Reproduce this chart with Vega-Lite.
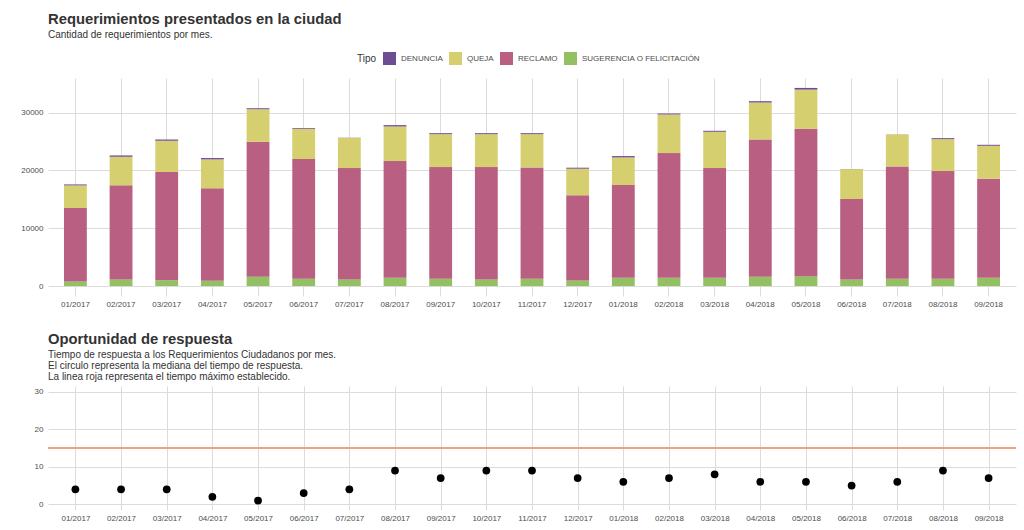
{
  "$schema": "https://vega.github.io/schema/vega-lite/v6.json",
  "autosize": {"type": "pad"},
  "padding": {"left": 20, "top": 12, "right": 5, "bottom": 5},
  "background": "white",
  "bounds": "flush",
  "spacing": 90,
  "config": {
    "font": "Liberation Sans",
    "view": {"stroke": null},
    "axis": {
      "domain": false,
      "ticks": false,
      "gridColor": "#dcdcdc",
      "gridWidth": 1,
      "labelColor": "#4d4d4d",
      "labelFontSize": 8,
      "labelFont": "Liberation Sans",
      "title": null
    },
    "title": {
      "anchor": "start",
      "frame": "group",
      "font": "Liberation Sans",
      "fontSize": 14.8,
      "fontWeight": "bold",
      "color": "#333333",
      "subtitleFont": "Liberation Sans",
      "subtitleFontSize": 10,
      "subtitleColor": "#333333",
      "subtitlePadding": 3,
      "subtitleLineHeight": 11
    }
  },
  "datasets": {
    "req": [
      {"mes": "01/2017", "Tipo": "SUGERENCIA O FELICITACIÓN", "n": 800},
      {"mes": "01/2017", "Tipo": "RECLAMO", "n": 12700},
      {"mes": "01/2017", "Tipo": "QUEJA", "n": 3900},
      {"mes": "01/2017", "Tipo": "DENUNCIA", "n": 170},
      {"mes": "02/2017", "Tipo": "SUGERENCIA O FELICITACIÓN", "n": 1150},
      {"mes": "02/2017", "Tipo": "RECLAMO", "n": 16260},
      {"mes": "02/2017", "Tipo": "QUEJA", "n": 4940},
      {"mes": "02/2017", "Tipo": "DENUNCIA", "n": 230},
      {"mes": "03/2017", "Tipo": "SUGERENCIA O FELICITACIÓN", "n": 1030},
      {"mes": "03/2017", "Tipo": "RECLAMO", "n": 18680},
      {"mes": "03/2017", "Tipo": "QUEJA", "n": 5400},
      {"mes": "03/2017", "Tipo": "DENUNCIA", "n": 230},
      {"mes": "04/2017", "Tipo": "SUGERENCIA O FELICITACIÓN", "n": 920},
      {"mes": "04/2017", "Tipo": "RECLAMO", "n": 15980},
      {"mes": "04/2017", "Tipo": "QUEJA", "n": 5000},
      {"mes": "04/2017", "Tipo": "DENUNCIA", "n": 230},
      {"mes": "05/2017", "Tipo": "SUGERENCIA O FELICITACIÓN", "n": 1610},
      {"mes": "05/2017", "Tipo": "RECLAMO", "n": 23330},
      {"mes": "05/2017", "Tipo": "QUEJA", "n": 5630},
      {"mes": "05/2017", "Tipo": "DENUNCIA", "n": 170},
      {"mes": "06/2017", "Tipo": "SUGERENCIA O FELICITACIÓN", "n": 1260},
      {"mes": "06/2017", "Tipo": "RECLAMO", "n": 20690},
      {"mes": "06/2017", "Tipo": "QUEJA", "n": 5230},
      {"mes": "06/2017", "Tipo": "DENUNCIA", "n": 150},
      {"mes": "07/2017", "Tipo": "SUGERENCIA O FELICITACIÓN", "n": 1150},
      {"mes": "07/2017", "Tipo": "RECLAMO", "n": 19250},
      {"mes": "07/2017", "Tipo": "QUEJA", "n": 5230},
      {"mes": "07/2017", "Tipo": "DENUNCIA", "n": 30},
      {"mes": "08/2017", "Tipo": "SUGERENCIA O FELICITACIÓN", "n": 1440},
      {"mes": "08/2017", "Tipo": "RECLAMO", "n": 20170},
      {"mes": "08/2017", "Tipo": "QUEJA", "n": 5980},
      {"mes": "08/2017", "Tipo": "DENUNCIA", "n": 230},
      {"mes": "09/2017", "Tipo": "SUGERENCIA O FELICITACIÓN", "n": 1260},
      {"mes": "09/2017", "Tipo": "RECLAMO", "n": 19310},
      {"mes": "09/2017", "Tipo": "QUEJA", "n": 5690},
      {"mes": "09/2017", "Tipo": "DENUNCIA", "n": 170},
      {"mes": "10/2017", "Tipo": "SUGERENCIA O FELICITACIÓN", "n": 1150},
      {"mes": "10/2017", "Tipo": "RECLAMO", "n": 19420},
      {"mes": "10/2017", "Tipo": "QUEJA", "n": 5690},
      {"mes": "10/2017", "Tipo": "DENUNCIA", "n": 170},
      {"mes": "11/2017", "Tipo": "SUGERENCIA O FELICITACIÓN", "n": 1260},
      {"mes": "11/2017", "Tipo": "RECLAMO", "n": 19250},
      {"mes": "11/2017", "Tipo": "QUEJA", "n": 5750},
      {"mes": "11/2017", "Tipo": "DENUNCIA", "n": 170},
      {"mes": "12/2017", "Tipo": "SUGERENCIA O FELICITACIÓN", "n": 980},
      {"mes": "12/2017", "Tipo": "RECLAMO", "n": 14710},
      {"mes": "12/2017", "Tipo": "QUEJA", "n": 4600},
      {"mes": "12/2017", "Tipo": "DENUNCIA", "n": 170},
      {"mes": "01/2018", "Tipo": "SUGERENCIA O FELICITACIÓN", "n": 1440},
      {"mes": "01/2018", "Tipo": "RECLAMO", "n": 16030},
      {"mes": "01/2018", "Tipo": "QUEJA", "n": 4770},
      {"mes": "01/2018", "Tipo": "DENUNCIA", "n": 230},
      {"mes": "02/2018", "Tipo": "SUGERENCIA O FELICITACIÓN", "n": 1440},
      {"mes": "02/2018", "Tipo": "RECLAMO", "n": 21550},
      {"mes": "02/2018", "Tipo": "QUEJA", "n": 6670},
      {"mes": "02/2018", "Tipo": "DENUNCIA", "n": 170},
      {"mes": "03/2018", "Tipo": "SUGERENCIA O FELICITACIÓN", "n": 1440},
      {"mes": "03/2018", "Tipo": "RECLAMO", "n": 18960},
      {"mes": "03/2018", "Tipo": "QUEJA", "n": 6270},
      {"mes": "03/2018", "Tipo": "DENUNCIA", "n": 170},
      {"mes": "04/2018", "Tipo": "SUGERENCIA O FELICITACIÓN", "n": 1610},
      {"mes": "04/2018", "Tipo": "RECLAMO", "n": 23740},
      {"mes": "04/2018", "Tipo": "QUEJA", "n": 6380},
      {"mes": "04/2018", "Tipo": "DENUNCIA", "n": 230},
      {"mes": "05/2018", "Tipo": "SUGERENCIA O FELICITACIÓN", "n": 1720},
      {"mes": "05/2018", "Tipo": "RECLAMO", "n": 25460},
      {"mes": "05/2018", "Tipo": "QUEJA", "n": 6780},
      {"mes": "05/2018", "Tipo": "DENUNCIA", "n": 290},
      {"mes": "06/2018", "Tipo": "SUGERENCIA O FELICITACIÓN", "n": 1150},
      {"mes": "06/2018", "Tipo": "RECLAMO", "n": 13900},
      {"mes": "06/2018", "Tipo": "QUEJA", "n": 5170},
      {"mes": "06/2018", "Tipo": "DENUNCIA", "n": 20},
      {"mes": "07/2018", "Tipo": "SUGERENCIA O FELICITACIÓN", "n": 1260},
      {"mes": "07/2018", "Tipo": "RECLAMO", "n": 19430},
      {"mes": "07/2018", "Tipo": "QUEJA", "n": 5520},
      {"mes": "07/2018", "Tipo": "DENUNCIA", "n": 20},
      {"mes": "08/2018", "Tipo": "SUGERENCIA O FELICITACIÓN", "n": 1260},
      {"mes": "08/2018", "Tipo": "RECLAMO", "n": 18620},
      {"mes": "08/2018", "Tipo": "QUEJA", "n": 5520},
      {"mes": "08/2018", "Tipo": "DENUNCIA", "n": 170},
      {"mes": "09/2018", "Tipo": "SUGERENCIA O FELICITACIÓN", "n": 1440},
      {"mes": "09/2018", "Tipo": "RECLAMO", "n": 17120},
      {"mes": "09/2018", "Tipo": "QUEJA", "n": 5690},
      {"mes": "09/2018", "Tipo": "DENUNCIA", "n": 170}
    ],
    "resp": [
      {"mes": "01/2017", "mediana": 4},
      {"mes": "02/2017", "mediana": 4},
      {"mes": "03/2017", "mediana": 4},
      {"mes": "04/2017", "mediana": 2},
      {"mes": "05/2017", "mediana": 1},
      {"mes": "06/2017", "mediana": 3},
      {"mes": "07/2017", "mediana": 4},
      {"mes": "08/2017", "mediana": 9},
      {"mes": "09/2017", "mediana": 7},
      {"mes": "10/2017", "mediana": 9},
      {"mes": "11/2017", "mediana": 9},
      {"mes": "12/2017", "mediana": 7},
      {"mes": "01/2018", "mediana": 6},
      {"mes": "02/2018", "mediana": 7},
      {"mes": "03/2018", "mediana": 8},
      {"mes": "04/2018", "mediana": 6},
      {"mes": "05/2018", "mediana": 6},
      {"mes": "06/2018", "mediana": 5},
      {"mes": "07/2018", "mediana": 6},
      {"mes": "08/2018", "mediana": 9},
      {"mes": "09/2018", "mediana": 7}
    ]
  },
  "vconcat": [
    {
      "width": 968,
      "height": 218,
      "title": {
        "text": "Requerimientos presentados en la ciudad",
        "subtitle": "Cantidad de requerimientos por mes.",
        "offset": 38
      },
      "data": {"name": "req"},
      "mark": {"type": "bar"},
      "encoding": {
        "x": {
          "field": "mes",
          "type": "nominal",
          "sort": null,
          "scale": {"paddingInner": 0.5, "paddingOuter": 0.35},
          "axis": {"labelAngle": 0, "labelPadding": 4, "grid": true, "bandPosition": 0.5}
        },
        "y": {
          "field": "n",
          "type": "quantitative",
          "aggregate": "sum",
          "stack": "zero",
          "scale": {"domain": [-1713, 35966], "nice": false, "zero": false},
          "axis": {"values": [0, 10000, 20000, 30000], "format": "d", "labelPadding": 5, "grid": true}
        },
        "color": {
          "field": "Tipo",
          "type": "nominal",
          "scale": {
            "domain": ["DENUNCIA", "QUEJA", "RECLAMO", "SUGERENCIA O FELICITACIÓN"],
            "range": ["#6e4c93", "#d5cf6f", "#b85f82", "#93c062"]
          },
          "legend": {
            "orient": "none",
            "legendX": 309,
            "legendY": -26,
            "direction": "horizontal",
            "title": "Tipo",
            "titleOrient": "left",
            "titleFontSize": 10,
            "titleFontWeight": "normal",
            "titleColor": "#333333",
            "titlePadding": 6,
            "titleBaseline": "middle",
            "symbolType": "square",
            "symbolSize": 169,
            "symbolStrokeWidth": 0,
            "symbolOpacity": 1,
            "labelFontSize": 8,
            "labelColor": "#4d4d4d",
            "labelOffset": 5,
            "columnPadding": 6
          }
        },
        "order": {"field": "Tipo", "sort": "descending"}
      }
    },
    {
      "width": 968,
      "height": 124,
      "title": {
        "text": "Oportunidad de respuesta",
        "subtitle": [
          "Tiempo de respuesta a los Requerimientos Ciudadanos por mes.",
          "El circulo representa la mediana del tiempo de respuesta.",
          "La linea roja representa el tiempo máximo establecido."
        ],
        "offset": 4
      },
      "data": {"name": "resp"},
      "encoding": {
        "x": {
          "field": "mes",
          "type": "nominal",
          "sort": null,
          "scale": {"type": "point", "padding": 0.6},
          "axis": {"labelAngle": 0, "labelPadding": 4, "grid": true}
        }
      },
      "layer": [
        {
          "mark": {"type": "rule", "color": "#f4a083", "strokeWidth": 1.6},
          "encoding": {"y": {"datum": 15, "type": "quantitative"}, "x": null}
        },
        {
          "mark": {"type": "circle", "color": "black", "opacity": 1, "size": 60},
          "encoding": {
            "y": {
              "field": "mediana",
              "type": "quantitative",
              "scale": {"domain": [-1.5, 31.5], "nice": false, "zero": false},
              "axis": {"values": [0, 10, 20, 30], "labelPadding": 5, "grid": true}
            }
          }
        }
      ]
    }
  ]
}
